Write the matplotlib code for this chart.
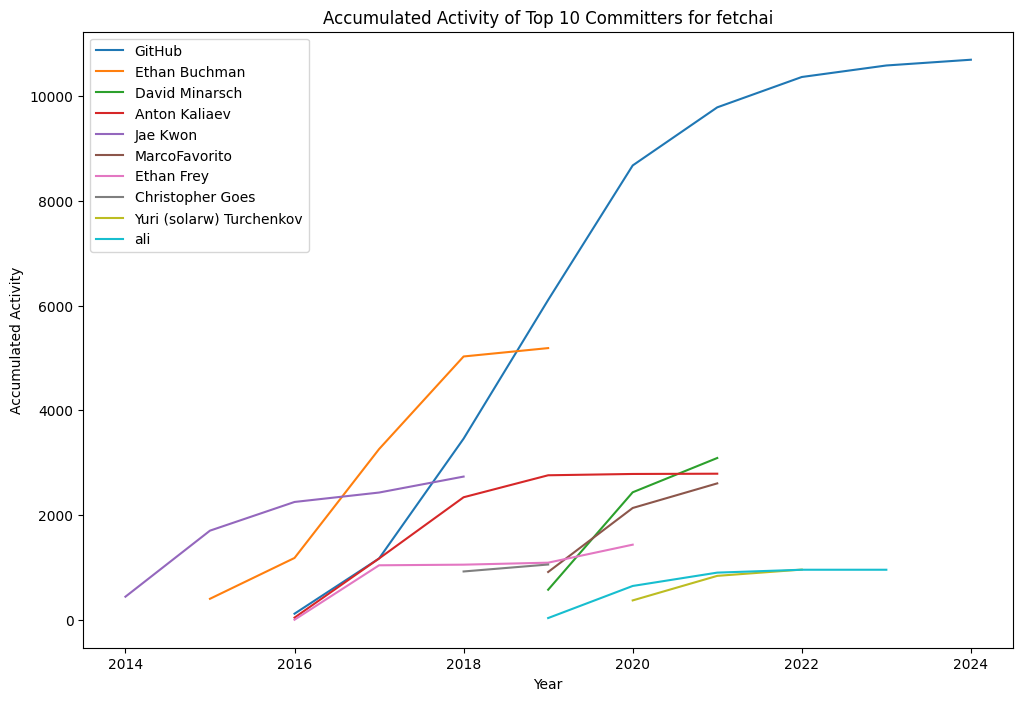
import matplotlib
matplotlib.use('Agg')
import matplotlib.pyplot as plt

# accumulated activity per committer, per year
github_years = [2016, 2017, 2018, 2019, 2020, 2021, 2022, 2023, 2024]
github_vals = [115, 1170, 3460, 6110, 8680, 9790, 10370, 10590, 10700]

buchman_years = [2015, 2016, 2017, 2018, 2019]
buchman_vals = [400, 1180, 3260, 5030, 5190]

minarsch_years = [2019, 2020, 2021]
minarsch_vals = [573, 2435, 3090]

kaliaev_years = [2016, 2017, 2018, 2019, 2020, 2021]
kaliaev_vals = [40, 1170, 2340, 2760, 2785, 2790]

kwon_years = [2014, 2015, 2016, 2017, 2018]
kwon_vals = [440, 1702, 2250, 2430, 2735]

favorito_years = [2019, 2020, 2021]
favorito_vals = [912, 2135, 2605]

frey_years = [2016, 2017, 2018, 2019, 2020]
frey_vals = [0, 1040, 1052, 1090, 1434]

goes_years = [2018, 2019]
goes_vals = [922, 1055]

yuri_years = [2020, 2021, 2022]
yuri_vals = [369, 838, 958]

ali_years = [2019, 2020, 2021, 2022, 2023]
ali_vals = [32, 645, 900, 955, 955]

series = [
    ('GitHub', github_years, github_vals),
    ('Ethan Buchman', buchman_years, buchman_vals),
    ('David Minarsch', minarsch_years, minarsch_vals),
    ('Anton Kaliaev', kaliaev_years, kaliaev_vals),
    ('Jae Kwon', kwon_years, kwon_vals),
    ('MarcoFavorito', favorito_years, favorito_vals),
    ('Ethan Frey', frey_years, frey_vals),
    ('Christopher Goes', goes_years, goes_vals),
    ('Yuri (solarw) Turchenkov', yuri_years, yuri_vals),
    ('ali', ali_years, ali_vals),
]

plt.figure(figsize=(12, 8))
for name, xs, ys in series:
    plt.plot(xs, ys, label=name)

plt.title('Accumulated Activity of Top 10 Committers for fetchai')
plt.xlabel('Year')
plt.ylabel('Accumulated Activity')
plt.legend(loc='upper left')
plt.savefig('out.png', dpi=100, bbox_inches='tight')
